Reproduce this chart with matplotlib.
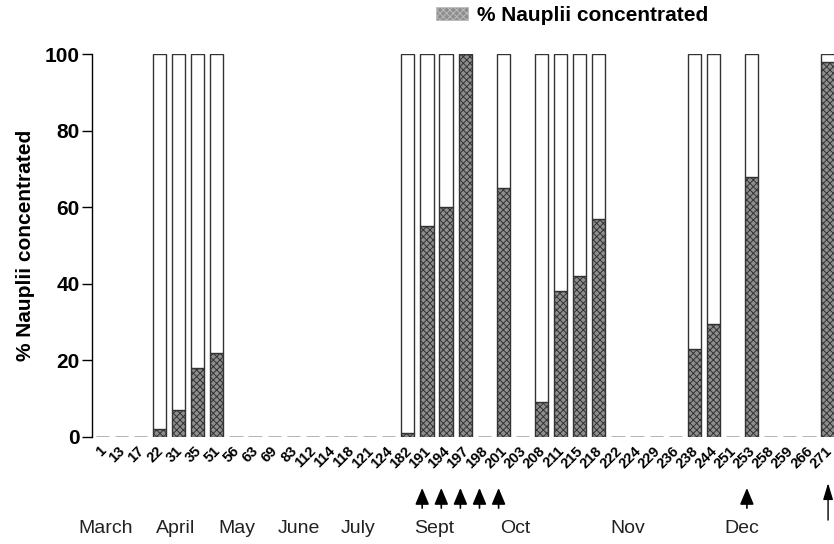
import numpy as np
import matplotlib
matplotlib.use('Agg')
import matplotlib.pyplot as plt
from matplotlib.patches import Patch
from matplotlib.transforms import blended_transform_factory, ScaledTranslation

plt.rcParams['font.family'] = ['Liberation Sans', 'DejaVu Sans']
plt.rcParams['hatch.linewidth'] = 0.7
plt.rcParams['hatch.color'] = '#3a3a3a'

# Dias de muestreo (etiquetas del eje x)
days = ['1', '13', '17', '22', '31', '35', '51', '56', '63', '69', '83',
        '112', '114', '118', '121', '124', '182', '191', '194', '197', '198',
        '201', '203', '208', '211', '215', '218', '222', '224', '229', '236',
        '238', '244', '251', '253', '258', '259', '266', '271']

# % de nauplios concentrados
concentrated = [0, 0, 0, 2, 7, 18, 22, 0, 0, 0, 0,
                0, 0, 0, 0, 0, 1, 55, 60, 100, 0,
                65, 0, 9, 38, 42, 57, 0, 0, 0, 0,
                23, 29.5, 0, 68, 0, 0, 0, 98]

# Total de la barra (100 si hay muestra, 0 si no)
total = [0, 0, 0, 100, 100, 100, 100, 0, 0, 0, 0,
         0, 0, 0, 0, 0, 100, 100, 100, 100, 0,
         100, 0, 100, 100, 100, 100, 0, 0, 0, 0,
         100, 100, 0, 100, 0, 0, 0, 100]

# Dias marcados con flecha
arrow_days = ['191', '194', '197', '198', '201', '253']
long_arrow_day = '271'

months = ['March', 'April', 'May', 'June', 'July', 'Sept', 'Oct', 'Nov', 'Dec']
month_pos = [0.2, 3.86, 7.06, 10.3, 13.4, 17.4, 21.6, 27.5, 33.5]

conc = np.array(concentrated, dtype=float)
rest = np.array(total, dtype=float) - conc
rest[rest < 0] = 0
x = np.arange(len(days))

# Generamos la figura y los ejes
fig = plt.figure(figsize=(8.34, 5.44), dpi=100)
ax = fig.add_axes([0.110, 0.197, 0.890, 0.7036])

# Barras apiladas
ax.bar(x, conc, width=0.69, color='#8e8e8e', edgecolor='#333333',
       hatch='xxxxx', linewidth=1.0, zorder=2)
ax.bar(x, rest, width=0.69, bottom=conc, color='white',
       edgecolor='#333333', linewidth=1.0, zorder=2)

# Ejes
ax.set_xlim(-0.55, 38.31)
ax.set_ylim(0, 100)
ax.set_yticks([0, 20, 40, 60, 80, 100])
ax.set_xticks(x)
ax.set_xticklabels(days, rotation=45, ha='right', rotation_mode='anchor',
                   fontsize=10.5, fontweight='bold')
ax.tick_params(axis='x', length=0, pad=5)
ax.tick_params(axis='y', length=7, width=1, direction='out',
               labelsize=15, pad=1.5)
# Desplazamos un poco las etiquetas del eje x a la izquierda
shift = ScaledTranslation(-0.035, 0, fig.dpi_scale_trans)
for lab in ax.get_xticklabels():
    lab.set_transform(lab.get_transform() + shift)
for lab in ax.get_yticklabels():
    lab.set_fontweight('bold')
for s in ['top', 'right', 'bottom']:
    ax.spines[s].set_visible(False)
ax.spines['left'].set_linewidth(1)

ax.set_ylabel('% Nauplii concentrated', fontsize=15, fontweight='bold',
              labelpad=7)

# Leyenda
handle = Patch(facecolor='#8e8e8e', edgecolor='#bbbbbb', hatch='xxxxx',
               linewidth=0.5)
fig.legend([handle], ['% Nauplii concentrated'], loc='center left',
           bbox_to_anchor=(0.523, 0.972), frameon=False,
           prop={'size': 15, 'weight': 'bold'}, handlelength=1.55,
           handleheight=0.6, handletextpad=0.4, borderaxespad=0,
           borderpad=0)

# Meses y flechas debajo del eje
trans = blended_transform_factory(ax.transData, fig.transFigure)
for m, p in zip(months, month_pos):
    ax.text(p, 0.0276, m, transform=trans, ha='center', va='center',
            fontsize=14, color='#222222')

for d in arrow_days:
    xi = days.index(d) - 0.25
    ax.annotate('', xy=(xi, 0.103), xycoords=trans, xytext=(xi, 0.066),
                textcoords=trans, annotation_clip=False,
                arrowprops=dict(arrowstyle='-|>,head_length=1.0,head_width=0.42',
                                mutation_scale=10, color='black', lw=1.2,
                                shrinkA=0, shrinkB=0))

xi = days.index(long_arrow_day)
ax.annotate('', xy=(xi, 0.112), xycoords=trans, xytext=(xi, 0.044),
            textcoords=trans, annotation_clip=False,
            arrowprops=dict(arrowstyle='-|>,head_length=1.0,head_width=0.3',
                            mutation_scale=10, color='black', lw=1.0,
                            shrinkA=0, shrinkB=0))

fig.savefig('out.png', dpi=100)
